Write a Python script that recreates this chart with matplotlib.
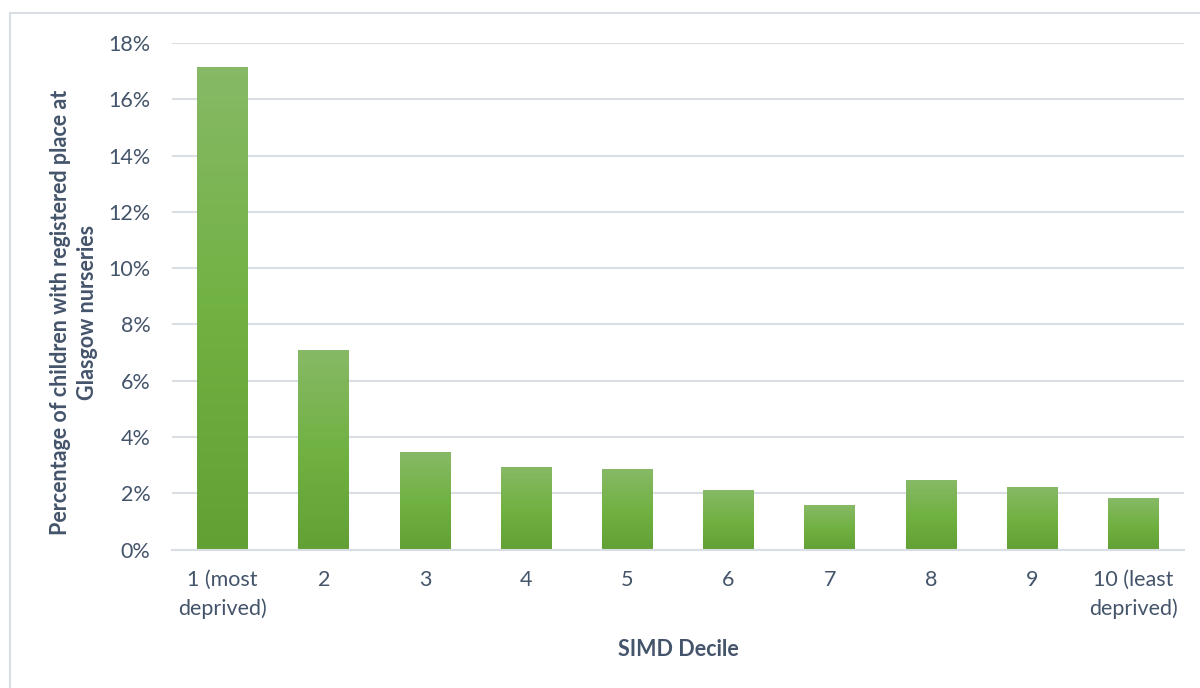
import numpy as np
import matplotlib
matplotlib.use("Agg")
import matplotlib.pyplot as plt
from matplotlib.colors import LinearSegmentedColormap
from matplotlib.patches import Rectangle
from matplotlib.ticker import FuncFormatter, MultipleLocator

plt.rcParams['font.family'] = ['Lato', 'DejaVu Sans']

deciles = ["1 (most\ndeprived)", "2", "3", "4", "5", "6", "7", "8", "9", "10 (least\ndeprived)"]
pct_registered = [17.15, 7.1, 3.46, 2.93, 2.86, 2.11, 1.58, 2.47, 2.22, 1.83]

text_col = "#44546a"
grid_col = "#d9dde4"
fs = 15.5

fig = plt.figure(figsize=(12, 6.88), dpi=100)
ax = fig.add_axes([0.1433, 0.2013, 0.8433, 0.7362])

# outer chart-area frame
fig.patches.append(Rectangle((10 / 1200, -0.05), 1.2, (688 - 13) / 688 + 0.05,
                             transform=fig.transFigure, fill=False,
                             edgecolor="#d9dde6", linewidth=1.5, zorder=0))

x = np.arange(len(deciles))
values = np.array(pct_registered) / 100.0
bars = ax.bar(x, values, width=0.5, facecolor="none", edgecolor="none", zorder=2)

# vertical gradient fill for each bar: light at top, darker at base
grad_cmap = LinearSegmentedColormap.from_list(
    "bar_grad", [(0.0, "#62a033"), (0.5, "#71b243"), (1.0, "#87b966")])
grad = np.linspace(0, 1, 256).reshape(-1, 1)
for b in bars:
    x0, y0 = b.get_x(), b.get_y()
    im = ax.imshow(grad, extent=[x0, x0 + b.get_width(), y0, y0 + b.get_height()],
                   origin="lower", aspect="auto", cmap=grad_cmap, zorder=2,
                   interpolation="bilinear")
    im.set_clip_path(b)

ax.set_xlim(-0.5, len(deciles) - 0.5)
ax.set_ylim(0, 0.18)
ax.yaxis.set_major_locator(MultipleLocator(0.02))
ax.yaxis.set_major_formatter(FuncFormatter(lambda v, p: f"{v * 100:.0f}%"))
ax.set_xticks(x)
ax.set_xticklabels(deciles, linespacing=1.5)

ax.grid(axis="y", color=grid_col, linewidth=1.5, zorder=0)
ax.set_axisbelow(True)
for side in ["top", "right", "left"]:
    ax.spines[side].set_visible(False)
ax.spines["bottom"].set_color(grid_col)
ax.spines["bottom"].set_linewidth(1.5)
ax.tick_params(axis="both", length=0, labelsize=fs, labelcolor=text_col)
ax.tick_params(axis="y", pad=15.5)
ax.tick_params(axis="x", pad=15)

fig.text(74 / 1200, 1 - 312 / 688,
         "Percentage of children with registered place at\nGlasgow nurseries",
         rotation=90, ha="center", va="center", fontsize=fs, fontweight="bold",
         color=text_col, linespacing=1.4)
fig.text(678 / 1200, 1 - 649 / 688, "SIMD Decile", ha="center", va="center",
         fontsize=fs, fontweight="bold", color=text_col)

fig.savefig("out.png", dpi=100)
